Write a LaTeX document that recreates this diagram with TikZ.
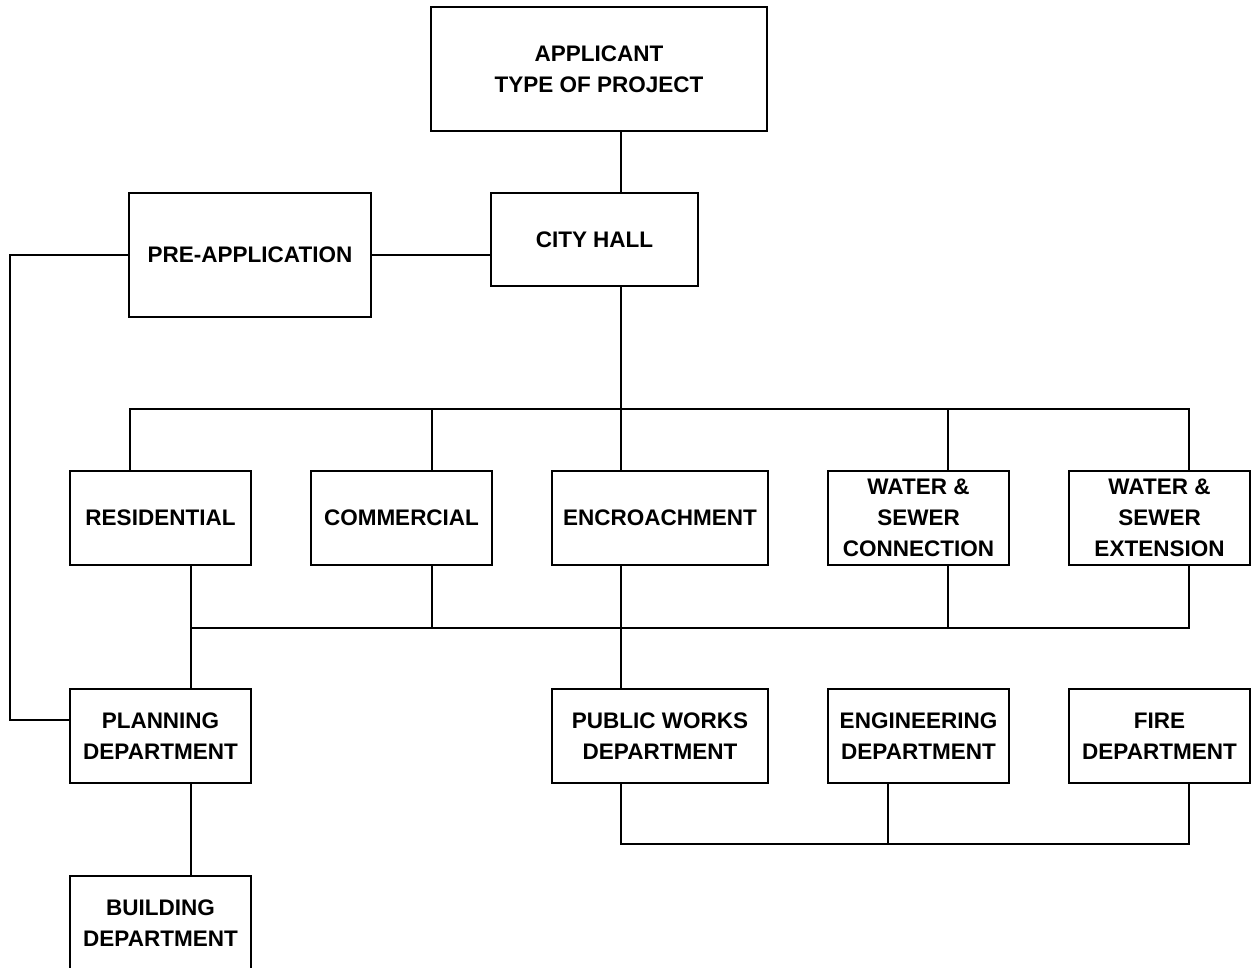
\documentclass[tikz,border=0pt]{standalone}
\usepackage{fontspec}
\setmainfont{Liberation Sans}
\begin{document}
\begin{tikzpicture}[x=1pt,y=-1pt,
  box/.style={draw=black,line width=2pt,fill=white,inner sep=0pt,align=center,
    font=\fontsize{22.5}{31}\selectfont\bfseries},
  conn/.style={draw=black,line width=1.6pt}]
\useasboundingbox (0,0) rectangle (1251,968);
\fill[white] (0,0) rectangle (1251,968);
% nodes
\node[box,minimum width=336pt,minimum height=124pt] (app) at (599,69) {APPLICANT\\TYPE OF PROJECT};
\node[box,minimum width=207pt,minimum height=93pt] (city) at (594.5,239.5) {CITY HALL};
\node[box,minimum width=242pt,minimum height=124pt] (pre) at (250,255) {PRE-APPLICATION};
\node[box,minimum width=181pt,minimum height=94pt] (res) at (160.5,518) {RESIDENTIAL};
\node[box,minimum width=181pt,minimum height=94pt] (com) at (401.5,518) {COMMERCIAL};
\node[box,minimum width=216pt,minimum height=94pt] (enc) at (660,518) {ENCROACHMENT};
\node[box,minimum width=181pt,minimum height=94pt] (wsc) at (918.5,518) {WATER \&\\SEWER\\CONNECTION};
\node[box,minimum width=181pt,minimum height=94pt] (wse) at (1159.5,518) {WATER \&\\SEWER\\EXTENSION};
\node[box,minimum width=181pt,minimum height=94pt] (plan) at (160.5,736) {PLANNING\\DEPARTMENT};
\node[box,minimum width=216pt,minimum height=94pt] (pw) at (660,736) {PUBLIC WORKS\\DEPARTMENT};
\node[box,minimum width=181pt,minimum height=94pt] (eng) at (918.5,736) {ENGINEERING\\DEPARTMENT};
\node[box,minimum width=181pt,minimum height=94pt] (fire) at (1159.5,736) {FIRE\\DEPARTMENT};
\node[box,minimum width=181pt,minimum height=94pt] (bld) at (160.5,923) {BUILDING\\DEPARTMENT};
% helper coordinates
\coordinate (b1) at (0,409);
\coordinate (b2) at (0,628);
\coordinate (b3) at (0,844);
\coordinate (xa) at (130,0);
\coordinate (xb) at (191,0);
\coordinate (xc) at (432,0);
\coordinate (xd) at (621,0);
\coordinate (xe) at (948,0);
\coordinate (xf) at (1189,0);
\coordinate (xg) at (888,0);
\coordinate (lx) at (10,720);
% connectors
\draw[conn] (app.south -| xd) -- (city.north -| xd);
\draw[conn] (pre.east) -- (pre.east -| city.west);
\draw[conn] (pre.west) -- (pre.west -| lx) -- (lx) -- (lx -| plan.west);
\draw[conn] (city.south -| xd) -- (enc.north -| xd);
\draw[conn] (res.north -| xa) -- (xa |- b1) -- (xf |- b1) -- (wse.north -| xf);
\draw[conn] (com.north -| xc) -- (xc |- b1);
\draw[conn] (wsc.north -| xe) -- (xe |- b1);
\draw[conn] (res.south -| xb) -- (plan.north -| xb);
\draw[conn] (xb |- b2) -- (xf |- b2) -- (wse.south -| xf);
\draw[conn] (com.south -| xc) -- (xc |- b2);
\draw[conn] (enc.south -| xd) -- (pw.north -| xd);
\draw[conn] (wsc.south -| xe) -- (xe |- b2);
\draw[conn] (plan.south -| xb) -- (bld.north -| xb);
\draw[conn] (pw.south -| xd) -- (xd |- b3) -- (xf |- b3) -- (fire.south -| xf);
\draw[conn] (eng.south -| xg) -- (xg |- b3);
\end{tikzpicture}
\end{document}
